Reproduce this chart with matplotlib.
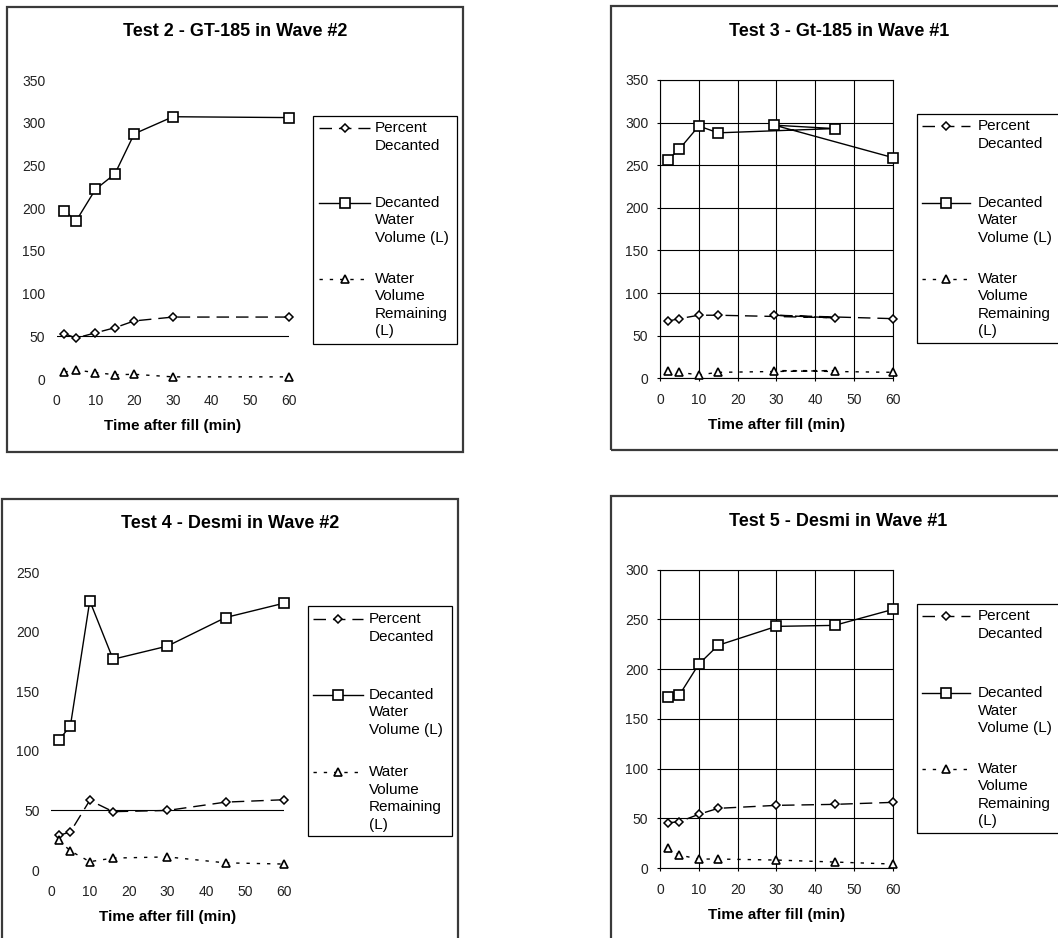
import matplotlib
matplotlib.use("Agg")
import matplotlib.pyplot as plt
from matplotlib.lines import Line2D
from matplotlib.patches import Rectangle

W, H = 1058, 938
plt.rcParams['font.family'] = ['Liberation Sans', 'DejaVu Sans']

# ---- data ----
t2_time = [2, 5, 10, 15, 20, 30, 60]
t2_percent = [53, 48, 54, 60, 68, 72.5, 72.5]
t2_decanted = [197, 185, 222, 240, 287, 307, 306]
t2_remaining = [8, 10.5, 7.5, 5, 5.5, 2.5, 2.5]

# test 3 was logged out of order (45 before 30), which is why the lines cross back
t3_time = [2, 5, 10, 15, 45, 29.5, 60]
t3_percent = [67, 70, 74, 74, 71, 74, 70]
t3_decanted = [256, 269, 296, 288, 293, 297, 259]
t3_remaining = [8, 7, 4, 7, 9, 9, 7]

t4_time = [2, 5, 10, 16, 30, 45, 60]
t4_percent = [29, 32, 58.5, 49, 50, 57, 59]
t4_decanted = [109, 121, 226, 177, 188, 212, 224]
t4_remaining = [25, 16, 7, 10, 11, 6, 5]

t5_time = [2, 5, 10, 15, 30, 45, 60]
t5_percent = [45.5, 46.5, 54, 60, 63, 64, 66]
t5_decanted = [172, 174, 205, 224, 243, 244, 260]
t5_remaining = [20, 13, 9, 9, 8, 6, 4]

titles = ['Test 2 - GT-185 in Wave #2', 'Test 3 - Gt-185 in Wave #1',
          'Test 4 - Desmi in Wave #2', 'Test 5 - Desmi in Wave #1']
x_ticks = [0, 10, 20, 30, 40, 50, 60]
y_max = [350, 350, 250, 300]
series_labels = ['Percent\nDecanted', 'Decanted\nWater\nVolume (L)',
                 'Water\nVolume\nRemaining\n(L)']

styles = [
    dict(color='black', lw=1, dashes=(9, 5), marker='D', ms=4.5,
         mfc='white', mec='black', mew=1.1),
    dict(color='black', lw=1, ls='-', marker='s', ms=7,
         mfc='white', mec='black', mew=1.2),
    dict(color='black', lw=1, dashes=(2.4, 5), marker='^', ms=6.4,
         mfc='white', mec='black', mew=1.2),
]

fig = plt.figure(figsize=(W / 100, H / 100), dpi=100)


def fx(px):
    return px / W


def fy(py):
    return 1 - py / H


def panel(ax_px, box_px, title_xy, leg_box, leg_x, leg_y, grid, title, ymax, x, series):
    x0, x1, y0, y1 = ax_px
    ax = fig.add_axes([fx(x0), fy(y0), (x1 - x0) / W, (y0 - y1) / H])
    for ys, st in zip(series, styles):
        ax.plot(x, ys, clip_on=False, zorder=3, **st)
    ax.set_xlim(0, 60)
    ax.set_ylim(0, ymax)
    ax.set_xticks(x_ticks)
    ax.set_yticks(range(0, ymax + 1, 50))
    ax.set_xlabel('Time after fill (min)', fontsize=11, fontweight='bold', labelpad=8)
    if grid:
        ax.grid(True, color='black', lw=0.8)
        for s in ax.spines.values():
            s.set_linewidth(0.8)
        ax.tick_params(length=2.4, width=0.8, labelsize=10, labelcolor='#222')
        ax.tick_params(axis='x', pad=8.4)
        ax.tick_params(axis='y', pad=6.0)
    else:
        for s in ax.spines.values():
            s.set_visible(False)
        ax.axhline(50, color='black', lw=0.8)
        ax.tick_params(length=0, labelsize=10, labelcolor='#222')
        ax.tick_params(axis='x', pad=10.8)
        ax.tick_params(axis='y', pad=8.2)

    bx0, by0, bx1, by1 = box_px
    fig.add_artist(Rectangle((fx(bx0), fy(by1)), (bx1 - bx0) / W, (by1 - by0) / H,
                             transform=fig.transFigure, fill=False,
                             edgecolor='#3a3a3a', lw=1.6))
    fig.text(fx(title_xy[0]), fy(title_xy[1]), title, fontsize=13, fontweight='bold',
             ha='center', va='center')

    lx0, ly0, lx1, ly1 = leg_box
    fig.add_artist(Rectangle((fx(lx0), fy(ly1)), (lx1 - lx0) / W, (ly1 - ly0) / H,
                             transform=fig.transFigure, fill=False,
                             edgecolor='black', lw=0.9))
    hx0, hx1, tx = leg_x
    for label, yy, st in zip(series_labels, leg_y, styles):
        fig.add_artist(Line2D([fx(hx0), fx((hx0 + hx1) / 2), fx(hx1)], [fy(yy)] * 3,
                              transform=fig.transFigure, markevery=[1], **st))
        for i, line in enumerate(label.split('\n')):
            fig.text(fx(tx), fy(yy + i * 17.5), line, fontsize=11,
                     ha='left', va='center')


panel((56.7, 289.3, 379, 80), (7, 7, 463, 452), (235, 32),
      (313, 116, 457, 344), (319, 370, 375), (128, 203, 279), False,
      titles[0], y_max[0], t2_time, [t2_percent, t2_decanted, t2_remaining])

panel((660, 892.7, 378.3, 80), (611, 6, 1064, 450), (839, 31),
      (917, 114, 1064, 343), (922, 970, 978), (126, 203, 279), True,
      titles[1], y_max[1], t3_time, [t3_percent, t3_decanted, t3_remaining])

panel((51, 283.7, 870, 572.3), (2, 499, 458, 944), (230, 523),
      (308, 606, 452, 836), (313, 363, 369), (619, 695, 772), False,
      titles[2], y_max[2], t4_time, [t4_percent, t4_decanted, t4_remaining])

panel((660, 892.7, 868, 569.7), (611, 496, 1064, 944), (838, 521),
      (917, 604, 1064, 833), (922, 970, 978), (616, 693, 769), True,
      titles[3], y_max[3], t5_time, [t5_percent, t5_decanted, t5_remaining])

fig.savefig('out.png', dpi=100)
